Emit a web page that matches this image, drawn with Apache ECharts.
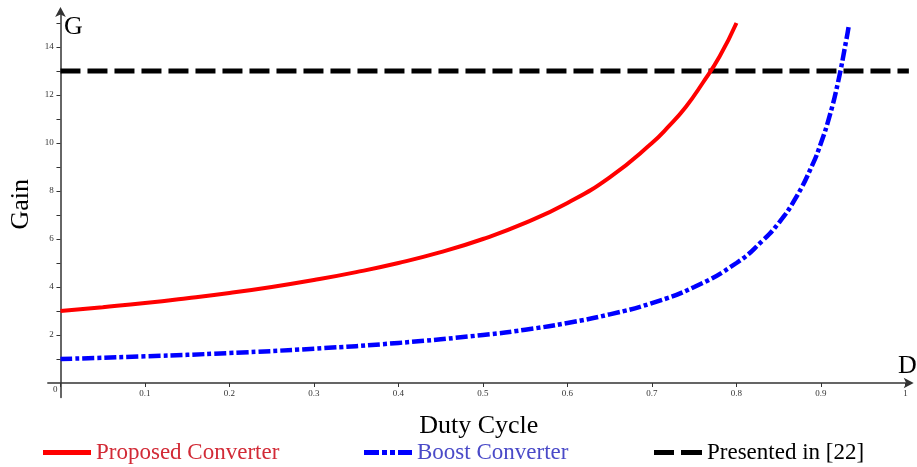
<!DOCTYPE html>
<html><head><meta charset="utf-8">
<script src="https://cdn.jsdelivr.net/npm/echarts@6/dist/echarts.min.js"></script>
<style>html,body{margin:0;padding:0;background:#fff}#c{width:917px;height:467px}</style>
</head><body><div id="c"></div>
<script>
const proposedD = [0,0.05,0.1,0.15,0.2,0.25,0.3,0.35,0.4,0.45,0.5,0.55,0.6,0.65,0.7,0.72,0.74,0.76,0.78,0.8];
const proposedG = [3,3.16,3.33,3.53,3.75,4.0,4.29,4.62,5.0,5.45,6.0,6.67,7.5,8.57,10.0,10.7,11.5,12.5,13.6,15.0];
const boostD = [0,0.1,0.2,0.3,0.4,0.5,0.55,0.6,0.65,0.7,0.75,0.8,0.83,0.85,0.87,0.89,0.9,0.91,0.92,0.93,0.933];
const boostG = [1,1.11,1.25,1.43,1.67,2.0,2.22,2.5,2.86,3.33,4.0,5.0,5.9,6.67,7.7,9.1,10.0,11.1,12.5,14.3,14.9];
const presentedD = [0,1.004];
const presentedG = [13,13];
const xTicks = [0,0.1,0.2,0.3,0.4,0.5,0.6,0.7,0.8,0.9,1];
const xLabels = [0.1,0.2,0.3,0.4,0.5,0.6,0.7,0.8,0.9,1];
const yLabels = [2,4,6,8,10,12,14];
const yTicks = [1,2,3,4,5,6,7,8,9,10,11,12,13,14,15];
const names = ['Proposed Converter','Boost Converter','Presented in [22]'];

const zip = (a,b) => a.map((v,i)=>[v,b[i]]);
const serif = 'Liberation Serif';
const chart = echarts.init(document.getElementById('c'));
const icons = [
  'path://M0,0h48v5h-48z',
  'path://M0,0h15v5h-15z M18,0h5v5h-5z M26,0h5v5h-5z M34,0h14v5h-14z',
  'path://M0,0h20v5h-20z M27,0h21v5h-21z'
];
const legendBase = (i, left, color) => ({
  data:[{name:names[i], icon:icons[i], textStyle:{color}}], left, top:441, padding:0, itemWidth:48, itemHeight:5,
  textStyle:{fontFamily:serif, fontSize:23}, selectedMode:false
});
chart.setOption({
  animation:false,
  grid:{left:47.8, top:11, width:861.9, height:386.4, containLabel:false, outerBoundsMode:'none'},
  legend:[legendBase(0,43,'#d22a36'), legendBase(1,364,'#4a4ac8'), legendBase(2,654,'#000')],
  xAxis:{type:'value', min:-0.015, max:1.005,
    axisLine:{onZero:true, lineStyle:{color:'#333', width:1.5}, symbol:['none','arrow'], symbolSize:[8,10], symbolOffset:[0,4]},
    axisTick:{customValues:xTicks, length:4, lineStyle:{color:'#333'}},
    axisLabel:{customValues:xLabels, fontFamily:serif, fontSize:9, color:'#333', margin:-8},
    splitLine:{show:false},
    name:'Duty Cycle', nameLocation:'middle', nameGap:16, nameMoveOverlap:false,
    nameTextStyle:{fontFamily:serif, fontSize:26, color:'#000'}
  },
  yAxis:{type:'value', min:-0.6, max:15.5,
    axisLine:{onZero:true, lineStyle:{color:'#333', width:1.5}, symbol:['none','arrow'], symbolSize:[8,10], symbolOffset:[0,4]},
    axisTick:{customValues:yTicks, length:4, lineStyle:{color:'#333'}},
    axisLabel:{customValues:yLabels, fontFamily:serif, fontSize:9, color:'#333', margin:-6},
    splitLine:{show:false},
    name:'Gain', nameLocation:'middle', nameGap:14, nameMoveOverlap:false,
    nameTextStyle:{fontFamily:serif, fontSize:26, color:'#000'}
  },
  graphic:[
    {type:'text', left:64, top:14, style:{text:'G', font:'26px "Liberation Serif"', fill:'#000'}},
    {type:'text', left:898, top:353, style:{text:'D', font:'26px "Liberation Serif"', fill:'#000'}},
    {type:'text', left:53, top:385, style:{text:'0', font:'9px "Liberation Serif"', fill:'#333'}}
  ],
  series:[
    {name:names[0], type:'line', data:zip(proposedD,proposedG), smooth:true, symbol:'none',
     lineStyle:{color:'#ff0000', width:4}, itemStyle:{color:'#ff0000'}, z:3},
    {name:names[1], type:'line', data:zip(boostD,boostG), smooth:true, symbol:'none',
     lineStyle:{color:'#0000ff', width:4.5, type:[12,3,4,3]}, itemStyle:{color:'#0000ff'}, z:3},
    {name:names[2], type:'line', data:zip(presentedD,presentedG), symbol:'none',
     lineStyle:{color:'#000', width:5, type:[20,7]}, itemStyle:{color:'#000'}, z:2}
  ]
});
</script></body></html>
